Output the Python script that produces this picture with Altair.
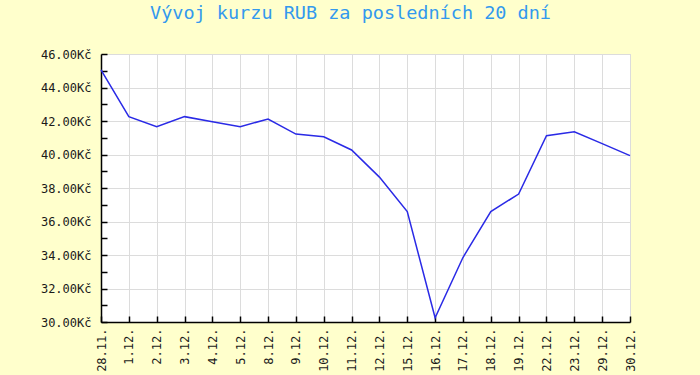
import altair as alt
import pandas as pd

dates = ["28.11.", "1.12.", "2.12.", "3.12.", "4.12.", "5.12.", "8.12.", "9.12.",
         "10.12.", "11.12.", "12.12.", "15.12.", "16.12.", "17.12.", "18.12.",
         "19.12.", "22.12.", "23.12.", "29.12.", "30.12."]
rates = [45.05, 42.26, 41.66, 42.26, 41.96, 41.66, 42.12, 41.22,
         41.06, 40.27, 38.65, 36.59, 30.25, 33.85, 36.59,
         37.64, 41.12, 41.36, 40.65, 39.93]
y_ticks_major = [30, 32, 34, 36, 38, 40, 42, 44, 46]
y_ticks_all = list(range(30, 47))

df = pd.DataFrame({"d": dates, "r": rates})

FONT = "DejaVu Sans Mono"

x_scale = alt.Scale(type="point", padding=0, domain=dates)
y_scale = alt.Scale(domain=[30, 46], nice=False, zero=False)

main = alt.Chart(df).mark_line(color="#2a2ae6", strokeWidth=1.5).encode(
    x=alt.X("d:O", sort=dates, scale=x_scale, title=None,
            axis=alt.Axis(orient="bottom", labelAngle=-90, labelAlign="right",
                          labelBaseline="middle", labelPadding=6, ticks=False,
                          domainColor="#000", domainWidth=1.5,
                          grid=True, gridColor="#dcdcdc", gridWidth=1,
                          labelFont=FONT, labelFontSize=12, labelColor="#1a1a1a")),
    y=alt.Y("r:Q", scale=y_scale, title=None,
            axis=alt.Axis(orient="left", values=y_ticks_major, ticks=False,
                          labelExpr="format(datum.value, '.2f') + 'Kč'",
                          labelPadding=10, domainColor="#000", domainWidth=1.5,
                          grid=True, gridColor="#dcdcdc", gridWidth=1,
                          labelFont=FONT, labelFontSize=12, labelColor="#1a1a1a")),
)

ticks_layer = alt.Chart(df).mark_line(opacity=0).encode(
    x=alt.X("d:O", sort=dates, scale=x_scale, title=None,
            axis=alt.Axis(orient="bottom", offset=-6, domain=False, labels=False,
                          grid=False, ticks=True, tickSize=6, tickColor="#000",
                          tickWidth=1.5)),
    y=alt.Y("r:Q", scale=y_scale, title=None,
            axis=alt.Axis(orient="left", offset=-6, values=y_ticks_all, domain=False,
                          labels=False, grid=False, ticks=True, tickSize=6,
                          tickColor="#000", tickWidth=1.5)),
)

chart = alt.layer(main, ticks_layer).resolve_axis(
    x="independent", y="independent"
).properties(
    width=529, height=268,
    autosize=alt.AutoSizeParams(type="none"),
    padding={"left": 101, "top": 54, "right": 70, "bottom": 53},
    background="#ffffcc",
    title=alt.TitleParams("Vývoj kurzu RUB za posledních 20 dní", font=FONT,
                          fontSize=18.5, fontWeight="normal", color="#3399ee",
                          anchor="middle", dx=-15, offset=26),
).configure_view(stroke="#d0d0d0", fill="white")

chart.save("out.html", embed_options={"renderer": "svg", "actions": False})
